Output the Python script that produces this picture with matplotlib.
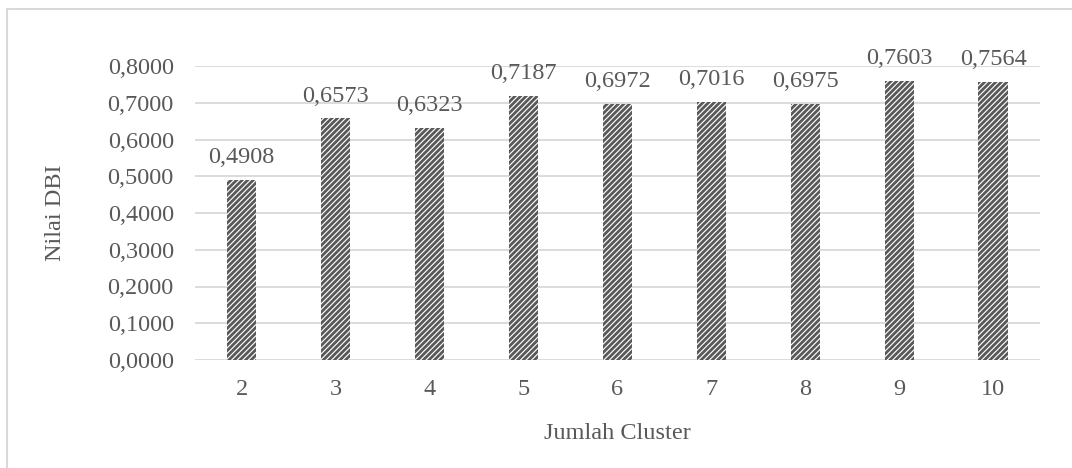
import matplotlib.pyplot as plt
import numpy as np
from matplotlib.patches import Rectangle


clusters = ['2', '3', '4', '5', '6', '7', '8', '9', '10']
dbi = [0.4908, 0.6573, 0.6323, 0.7187, 0.6972, 0.7016, 0.6975, 0.7603, 0.7564]
yticks = [0.0, 0.1, 0.2, 0.3, 0.4, 0.5, 0.6, 0.7, 0.8]

TEXT = '#595959'
GRID = '#d9d9d9'
FS = 17.5

plt.rcParams['font.family'] = ['Liberation Serif', 'DejaVu Serif']
plt.rcParams['hatch.linewidth'] = 2.0

fig = plt.figure(figsize=(10.72, 4.68), dpi=100)
ax = fig.add_axes([194.7 / 1072, 1 - 360 / 468, (1040 - 194.7) / 1072, 294 / 468])

x = np.arange(len(clusters))
ax.bar(x, dbi, width=0.31, color='white', edgecolor=TEXT, hatch='//////',
       linewidth=0, zorder=2)

# data labels
for xi, v in zip(x, dbi):
    ax.text(xi, v + 0.046, f'{v:.4f}'.replace('.', ','), ha='center',
            va='baseline', fontsize=FS, color=TEXT)

ax.set_xlim(-0.5, len(clusters) - 0.5)
ax.set_ylim(0, 0.8)
ax.set_yticks(yticks)
ax.set_yticklabels([f'{t:.4f}'.replace('.', ',') for t in yticks])
ax.set_xticks(x)
ax.set_xticklabels(clusters)
ax.tick_params(axis='both', length=0, labelsize=FS, labelcolor=TEXT)
ax.tick_params(axis='y', pad=15)
ax.tick_params(axis='x', pad=14)
ax.yaxis.grid(True, color=GRID, linewidth=1.3, zorder=0)
ax.set_axisbelow(True)
for s in ax.spines.values():
    s.set_visible(False)

ax.set_xlabel('Jumlah Cluster', fontsize=FS, color=TEXT, labelpad=16)
ax.set_ylabel('Nilai DBI', fontsize=FS, color=TEXT, labelpad=30)

# chart border
fig.patches.append(Rectangle((7 / 1072, -0.1), 1.2, 1 - 9 / 468 + 0.1,
                             transform=fig.transFigure, fill=False,
                             edgecolor=GRID, linewidth=1.5))

fig.savefig('out.png', dpi=100)
